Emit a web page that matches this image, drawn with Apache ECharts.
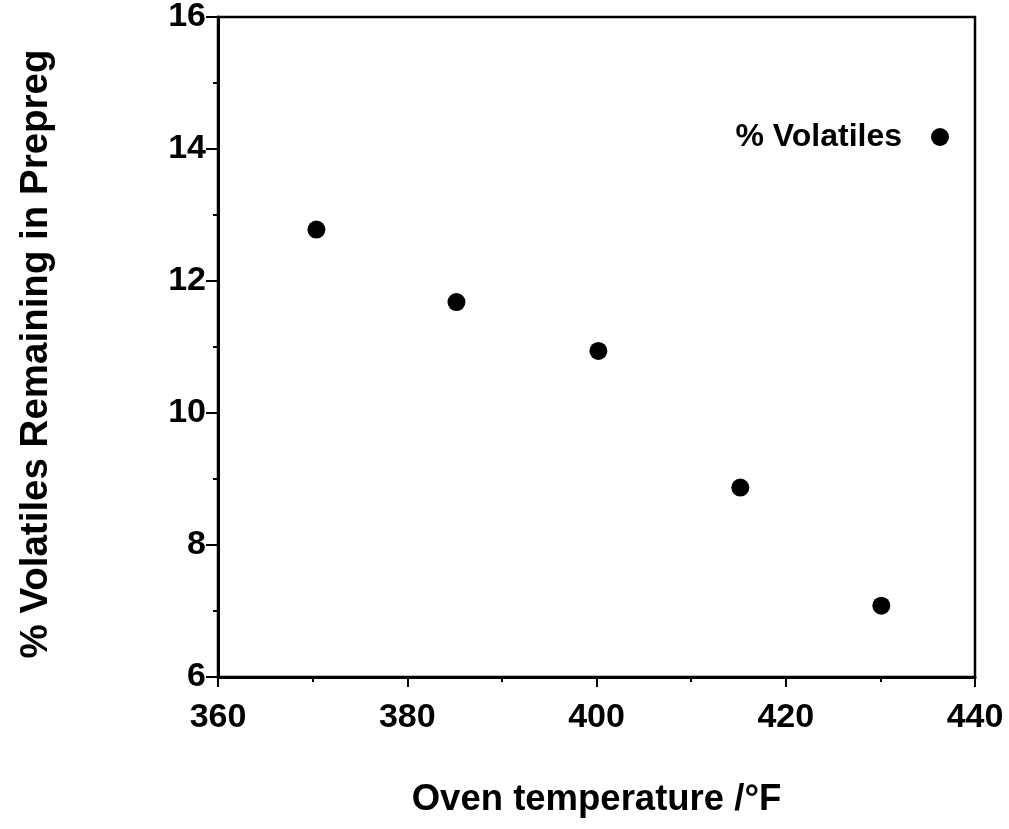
<!DOCTYPE html>
<html>
<head>
<meta charset="utf-8">
<script src="https://cdn.jsdelivr.net/npm/echarts@6/dist/echarts.min.js"></script>
<style>html,body{margin:0;padding:0;background:#fff;}#c{width:1009px;height:829px;}</style>
</head>
<body>
<div id="c"></div>
<script>
const temperatures = [370.4, 385.2, 400.2, 415.2, 430.1];
const volatiles = [12.78, 11.68, 10.94, 8.87, 7.08];
const seriesName = '% Volatiles';
const xTitle = 'Oven temperature /\u00B0F';
const yTitle = '% Volatiles Remaining in Prepreg';

const font = '"Liberation Sans", Arial, Helvetica, sans-serif';
const chart = echarts.init(document.getElementById('c'), null, {renderer: 'canvas'});
chart.setOption({
  backgroundColor: '#fff',
  animation: false,
  textStyle: {fontFamily: font},
  grid: {left: 218, top: 17, right: 34, bottom: 152, show: true, borderColor: '#000', borderWidth: 2.5, backgroundColor: 'transparent'},
  legend: {
    data: [seriesName],
    right: 55, top: 116,
    align: 'right',
    itemWidth: 18, itemHeight: 18,
    icon: 'circle',
    itemStyle: {color: '#000', opacity: 1},
    textStyle: {fontSize: 32, fontWeight: 'bold', color: '#000', fontFamily: font, padding: [0, 24, 0, 0]}
  },
  xAxis: {
    type: 'value', min: 360, max: 440, interval: 20,
    name: xTitle, nameLocation: 'middle', nameGap: 104,
    nameTextStyle: {fontSize: 36.5, fontWeight: 'bold', color: '#000', fontFamily: font},
    axisLine: {show: true, onZero: false, lineStyle: {color: '#000', width: 3}},
    axisTick: {show: true, length: 10, lineStyle: {color: '#000', width: 2}},
    minorTick: {show: true, splitNumber: 2, length: 5, lineStyle: {color: '#000', width: 2}},
    axisLabel: {fontSize: 34, fontWeight: 'bold', color: '#000', margin: 24, fontFamily: font},
    splitLine: {show: false}
  },
  yAxis: {
    type: 'value', min: 6, max: 16, interval: 2,
    name: yTitle, nameLocation: 'middle', nameGap: 162, nameRotate: 90,
    nameTextStyle: {fontSize: 38.5, fontWeight: 'bold', color: '#000', fontFamily: font, padding: [0, 14, 0, 0]},
    axisLine: {show: true, onZero: false, lineStyle: {color: '#000', width: 3}},
    axisTick: {show: true, length: 12, lineStyle: {color: '#000', width: 2}},
    minorTick: {show: true, splitNumber: 2, length: 5, lineStyle: {color: '#000', width: 2}},
    axisLabel: {fontSize: 34, fontWeight: 'bold', color: '#000', margin: 12, fontFamily: font},
    splitLine: {show: false}
  },
  series: [{
    name: seriesName,
    type: 'scatter',
    symbol: 'circle',
    symbolSize: 18,
    itemStyle: {color: '#000', opacity: 1},
    data: temperatures.map((t, i) => [t, volatiles[i]])
  }]
});
</script>
</body>
</html>
